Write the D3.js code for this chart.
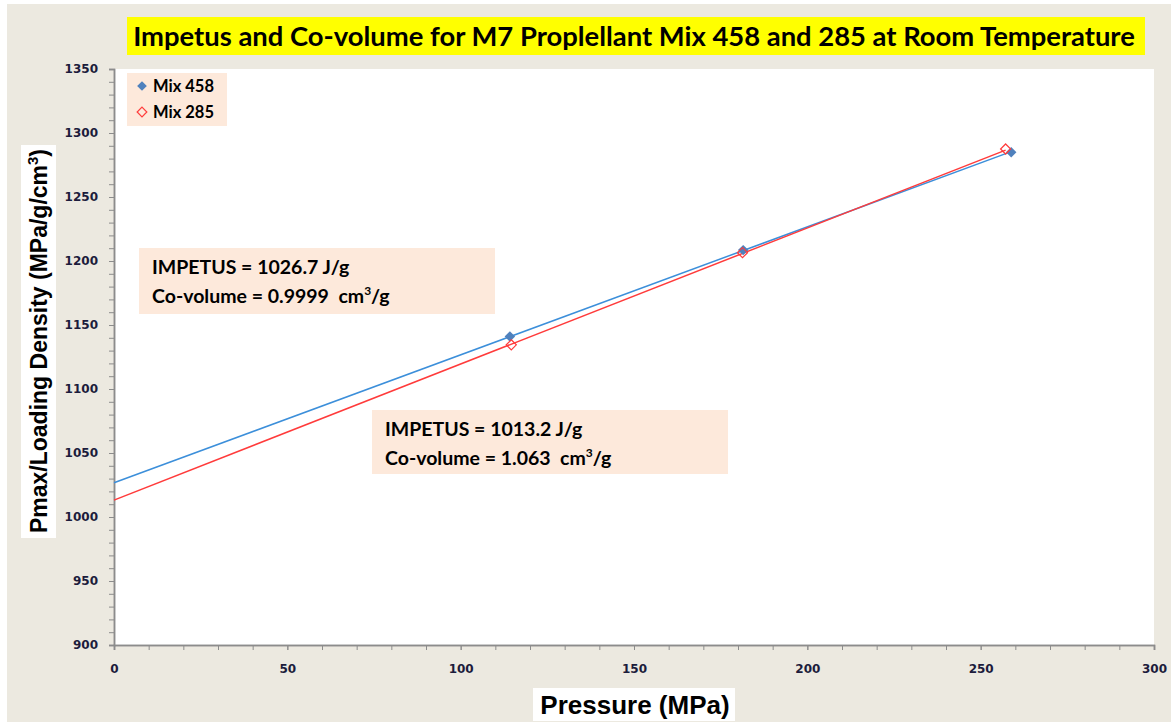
<!DOCTYPE html>
<html>
    <head>
        <meta charset="utf-8" />
        <script src="https://d3js.org/d3.v7.min.js"></script>
        <style>
            body { margin: 0; background-color: white; }
            svg { display: block; }
            .tick text { font-family: 'DejaVu Sans', sans-serif; font-weight: bold; font-size: 12px; fill: #1c1c3c; }
        </style>
    </head>
    <body>
        <svg></svg>
        <script>
            // data
            const pressure458 = [114.2, 181.5, 258.8]
            const ratio458 = [1141, 1208.5, 1285]
            const pressure285 = [114.6, 181.3, 257.2]
            const ratio285 = [1134.5, 1206.5, 1287.5]

            // fitted lines: intercept = impetus, slope = co-volume
            const impetus = ['1026.7', '1013.2']
            const covolume = ['0.9999', '1.063']

            const xTicks = [0, 50, 100, 150, 200, 250, 300]
            const yTicks = [900, 950, 1000, 1050, 1100, 1150, 1200, 1250, 1300, 1350]

            const width = 1171
            const height = 722
            const plotLeft = 114, plotRight = 1154, plotTop = 69, plotBottom = 645

            const svg = d3.select('svg').attr('width', width).attr('height', height)

            svg.append('rect').attr('x', 7).attr('y', 4)
                .attr('width', width - 7).attr('height', height - 4)
                .attr('fill', '#ECE9E0')

            const xScale = d3.scaleLinear().domain([0, 300]).range([plotLeft, plotRight])
            const yScale = d3.scaleLinear().domain([900, 1350]).range([plotBottom, plotTop])

            svg.append('rect').attr('x', plotLeft).attr('y', plotTop)
                .attr('width', plotRight - plotLeft).attr('height', plotBottom - plotTop)
                .attr('fill', 'white')

            // title
            svg.append('rect').attr('x', 127).attr('y', 17)
                .attr('width', 1018).attr('height', 38).attr('fill', '#FFFF00')
            svg.append('text').attr('x', 634).attr('y', 46)
                .attr('text-anchor', 'middle')
                .style('font-family', 'Lato, sans-serif').style('font-weight', 'bold')
                .style('font-size', '27.4px').attr('fill', 'black')
                .text('Impetus and Co-volume for M7 Proplellant Mix 458 and 285 at Room Temperature')

            // axes with minor ticks
            const axisColor = '#8c8c8c'
            const xMinor = d3.range(0, 301, 10)
            const yMinor = d3.range(900, 1351, 10)

            const gx = svg.append('g').attr('transform', `translate(0,${plotBottom})`)
            gx.append('g').call(d3.axisBottom(xScale).tickValues(xMinor).tickSize(5).tickFormat(''))
            gx.append('g').call(d3.axisBottom(xScale).tickValues(xTicks).tickSize(5)
                .tickPadding(14).tickFormat(d3.format('d')))
            gx.selectAll('line, path').attr('stroke', axisColor)
            gx.selectAll('path').attr('stroke-width', 1.5)

            const gy = svg.append('g').attr('transform', `translate(${plotLeft},0)`)
            gy.append('g').call(d3.axisLeft(yScale).tickValues(yMinor).tickSize(5).tickFormat(''))
            gy.append('g').call(d3.axisLeft(yScale).tickValues(yTicks).tickSize(5)
                .tickPadding(11).tickFormat(d3.format('d')))
            gy.selectAll('line, path').attr('stroke', axisColor)
            gy.selectAll('path').attr('stroke-width', 1.5)

            // axis titles
            svg.append('rect').attr('x', 533).attr('y', 688)
                .attr('width', 202).attr('height', 33).attr('fill', 'white')
            svg.append('text').attr('x', 635).attr('y', 714)
                .attr('text-anchor', 'middle')
                .style('font-family', 'Liberation Sans, Arial, sans-serif').style('font-weight', 'bold')
                .style('font-size', '26px').text('Pressure (MPa)')

            svg.append('rect').attr('x', 21).attr('y', 145)
                .attr('width', 35).attr('height', 393).attr('fill', 'white')
            const yTitle = svg.append('text')
                .attr('transform', 'translate(47,341) rotate(-90)')
                .attr('text-anchor', 'middle')
                .style('font-family', 'Liberation Sans, Arial, sans-serif').style('font-weight', 'bold')
                .style('font-size', '23px')
            yTitle.append('tspan').text('Pmax/Loading Density (MPa/g/cm')
            yTitle.append('tspan').attr('dy', -9).style('font-size', '15px').text('3')
            yTitle.append('tspan').attr('dy', 9).text(')')

            // trend lines
            const lineColors = ['#3C8FDA', '#FF3B3B']
            const ends = [d3.max(pressure458), d3.max(pressure285)]
            impetus.forEach((f, i) => {
                svg.append('line')
                    .attr('x1', xScale(0)).attr('y1', yScale(+f))
                    .attr('x2', xScale(ends[i])).attr('y2', yScale(+f + +covolume[i] * ends[i]))
                    .attr('stroke', lineColors[i]).attr('stroke-width', 1.5)
            })

            const diamond = d3.symbol().type(d3.symbolDiamond2)

            svg.selectAll('.p458')
                .data(pressure458)
                .enter()
                .append('path')
                .attr('d', diamond.size(70))
                .attr('transform', (d, i) => `translate(${xScale(d)},${yScale(ratio458[i])})`)
                .attr('fill', '#4F81BD')

            svg.selectAll('.p285')
                .data(pressure285)
                .enter()
                .append('path')
                .attr('d', diamond.size(65))
                .attr('transform', (d, i) => `translate(${xScale(d)},${yScale(ratio285[i])})`)
                .attr('fill', 'none').attr('stroke', '#FF3B3B').attr('stroke-width', 1.2)

            // legend
            const boxFill = '#FDE9DB'
            svg.append('rect').attr('x', 127).attr('y', 73)
                .attr('width', 100).attr('height', 53).attr('fill', boxFill)
            const legendItems = ['Mix 458', 'Mix 285']
            legendItems.forEach((name, i) => {
                const y = 86 + i * 26
                const mark = svg.append('path').attr('d', diamond.size(60))
                    .attr('transform', `translate(142,${y})`)
                if (i === 0) mark.attr('fill', '#4F81BD')
                else mark.attr('fill', 'none').attr('stroke', '#FF3B3B').attr('stroke-width', 1.2)
                svg.append('text').attr('x', 153).attr('y', y + 6)
                    .style('font-family', 'Lato, sans-serif').style('font-weight', 'bold')
                    .style('font-size', '16.5px').text(name)
            })

            // annotation boxes
            const notes = [
                { x: 139, y: 248, w: 356, h: 66 },
                { x: 372, y: 410, w: 356, h: 64 }
            ]
            notes.forEach((n, i) => {
                svg.append('rect').attr('x', n.x).attr('y', n.y)
                    .attr('width', n.w).attr('height', n.h).attr('fill', boxFill)
                const t = svg.append('text')
                    .style('font-family', 'Lato, sans-serif').style('font-weight', 'bold')
                    .style('font-size', '19.5px')
                t.append('tspan').attr('x', n.x + 13).attr('y', n.y + 26)
                    .text(`IMPETUS = ${impetus[i]} J/g`)
                t.append('tspan').attr('x', n.x + 13).attr('y', n.y + 55)
                    .text(`Co-volume = ${covolume[i]}\u00a0\u00a0cm`)
                t.append('tspan').attr('dy', -8).style('font-size', '12px').text('3')
                t.append('tspan').attr('dy', 8).text('/g')
            })
        </script>
    </body>
</html>
